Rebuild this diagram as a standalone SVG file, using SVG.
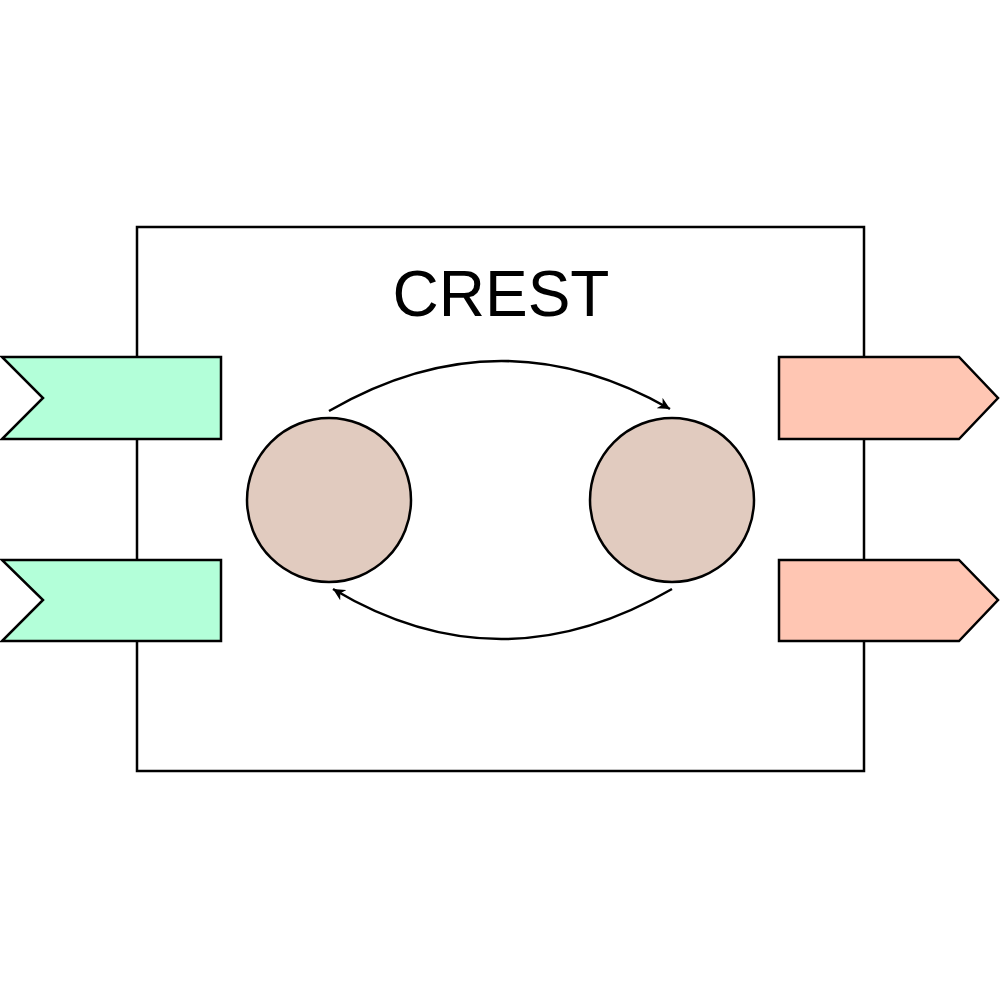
<svg xmlns="http://www.w3.org/2000/svg" width="1000" height="1000" viewBox="0 0 1000 1000">
<style>
.box{fill:#fff;stroke:#000;stroke-width:2.5}
.in{fill:#b3ffd9;stroke:#000;stroke-width:2.5}
.out{fill:#ffc6b3;stroke:#000;stroke-width:2.5}
.st{fill:#e1cbbf;stroke:#000;stroke-width:2.5}
.edge{fill:none;stroke:#000;stroke-width:2.5;marker-end:url(#ah)}
.lbl{font-family:"Liberation Sans",Arial,sans-serif;font-size:64px;fill:#000}
</style>
<defs>
<marker id="ah" markerWidth="14" markerHeight="12" refX="12" refY="6" orient="auto" markerUnits="userSpaceOnUse">
<path d="M0,0 L12,6 L0,12 L3.5,6 Z" fill="#000"/>
</marker>
</defs>
<g id="crest">
<rect class="box" x="137" y="227" width="727" height="544"/>
<text class="lbl" x="501" y="316" text-anchor="middle">CREST</text>
</g>
<g id="in1"><polygon class="in" points="2,357 221,357 221,439 2,439 43,398"/></g>
<g id="in2"><polygon class="in" points="2,560 221,560 221,641 2,641 43,600"/></g>
<g id="out1"><polygon class="out" points="779,357 959,357 998,398 959,439 779,439"/></g>
<g id="out2"><polygon class="out" points="779,560 959,560 998,600 959,641 779,641"/></g>
<g id="s1"><circle class="st" cx="329" cy="500" r="82"/></g>
<g id="s2"><circle class="st" cx="672" cy="500" r="82"/></g>
<g id="connectors">
<path class="edge" d="M329,411 Q500,312 670,409"/>
<path class="edge" d="M672,589 Q500,689 333,589"/>
</g>
</svg>
